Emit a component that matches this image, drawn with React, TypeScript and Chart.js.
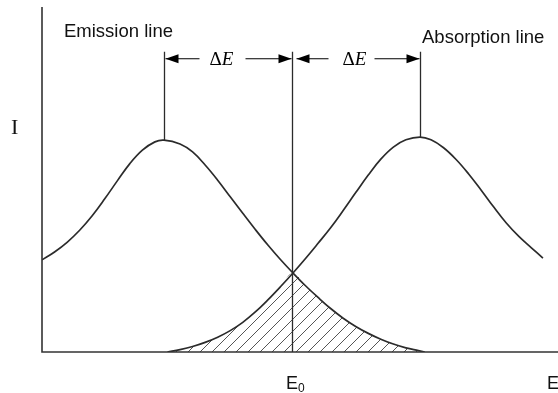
import React, { useEffect, useRef } from "react";
import { Chart, registerables } from "chart.js";

Chart.register(...registerables);

// Energy E (arbitrary units) and intensity I (arbitrary units)
const E_MIN = 0;
const E_MAX = 20.56;
const I_MAX = 100;
const E0 = 10;

const emissionE = [0, 0.5, 1, 1.5, 2, 2.5, 3, 3.5, 4, 4.5, 4.86, 5.5, 6, 6.5, 7, 7.5, 8, 8.5, 9, 9.5, 10, 10.5, 11, 11.5, 12, 12.5, 13, 13.5, 14, 14.5, 15, 15.25];
const emissionI = [26.7, 29.0, 31.8, 35.3, 39.5, 44.4, 49.6, 54.6, 58.5, 60.9, 61.4, 60.3, 58.0, 54.2, 49.8, 45.0, 40.2, 35.5, 31.0, 26.8, 22.9, 19.2, 15.8, 12.6, 9.8, 7.4, 5.4, 3.7, 2.3, 1.2, 0.4, 0];

const absorptionE = [5.0, 5.5, 6, 6.5, 7, 7.5, 8, 8.5, 9, 9.5, 10, 10.5, 11, 11.5, 12, 12.5, 13, 13.5, 14, 14.5, 15.06, 15.5, 16, 16.5, 17, 17.5, 18, 18.5, 19, 19.5, 19.96];
const absorptionI = [0, 0.7, 1.6, 2.8, 4.3, 6.2, 8.6, 11.6, 15.1, 18.9, 22.9, 27.1, 31.5, 36.0, 41.0, 46.2, 51.3, 55.9, 59.4, 61.5, 62.3, 61.5, 59.2, 55.8, 51.6, 46.9, 42.0, 37.4, 33.5, 30.2, 27.2];

const xLabels = ["E", "E"];
const textEmission = "Emission line";
const textAbsorption = "Absorption line";
const textI = "I";

const toPoints = (xs: number[], ys: number[]) => xs.map((x, i) => ({ x, y: ys[i] }));

function peakOf(xs: number[], ys: number[]) {
  let k = 0;
  ys.forEach((v, i) => {
    if (v > ys[k]) k = i;
  });
  return { x: xs[k], y: ys[k] };
}

function makeHatch(): CanvasPattern | string {
  const s = 12;
  const c = document.createElement("canvas");
  c.width = s;
  c.height = s;
  const g = c.getContext("2d");
  if (!g) return "rgba(0,0,0,0.2)";
  g.strokeStyle = "#555";
  g.lineWidth = 1;
  g.beginPath();
  g.moveTo(0, s);
  g.lineTo(s, 0);
  g.moveTo(-s / 2, s / 2);
  g.lineTo(s / 2, -s / 2);
  g.moveTo(s / 2, s * 1.5);
  g.lineTo(s * 1.5, s / 2);
  g.stroke();
  const p = g.createPattern(c, "repeat");
  return p || "rgba(0,0,0,0.2)";
}

export default function App() {
  const ref = useRef<HTMLCanvasElement | null>(null);

  useEffect(() => {
    const canvas = ref.current;
    if (!canvas) return;

    const emission = toPoints(emissionE, emissionI);
    const absorption = toPoints(absorptionE, absorptionI);
    const overlap = [
      ...absorption.filter((p) => p.x <= E0),
      ...emission.filter((p) => p.x > E0),
    ];
    const emPeak = peakOf(emissionE, emissionI);
    const abPeak = peakOf(absorptionE, absorptionI);

    const ink = "#2b2b2b";

    const annot = {
      id: "annot",
      afterDatasetsDraw(chart: any) {
        const ctx: CanvasRenderingContext2D = chart.ctx;
        const { left, right, top, bottom } = chart.chartArea;
        const xs = chart.scales.x;
        const ys = chart.scales.y;
        const px = (v: number) => xs.getPixelForValue(v);
        const py = (v: number) => ys.getPixelForValue(v);

        ctx.save();
        // axes
        ctx.strokeStyle = "#333";
        ctx.lineWidth = 1.6;
        ctx.beginPath();
        ctx.moveTo(left, top);
        ctx.lineTo(left, bottom);
        ctx.lineTo(right, bottom);
        ctx.stroke();

        // vertical markers
        const xEm = Math.round(px(emPeak.x)) + 0.5;
        const xAb = Math.round(px(abPeak.x)) + 0.5;
        const x0 = Math.round(px(E0)) - 0.5;
        const yTop = py(87);
        ctx.strokeStyle = ink;
        ctx.lineWidth = 1.3;
        ctx.beginPath();
        ctx.moveTo(xEm, yTop);
        ctx.lineTo(xEm, py(emPeak.y));
        ctx.moveTo(xAb, yTop);
        ctx.lineTo(xAb, py(abPeak.y));
        ctx.moveTo(x0, yTop);
        ctx.lineTo(x0, bottom);
        ctx.stroke();

        // arrows
        const ya = py(85);
        const head = (tip: number, dir: number) => {
          ctx.beginPath();
          ctx.moveTo(tip, ya);
          ctx.lineTo(tip + dir * 13, ya - 4.5);
          ctx.lineTo(tip + dir * 13, ya + 4.5);
          ctx.closePath();
          ctx.fill();
        };
        ctx.fillStyle = "#000";
        ctx.strokeStyle = "#000";
        ctx.lineWidth = 1.2;
        const seg = (a: number, b: number, gapL: number, gapR: number) => {
          ctx.beginPath();
          ctx.moveTo(a + 1, ya);
          ctx.lineTo(gapL, ya);
          ctx.moveTo(gapR, ya);
          ctx.lineTo(b - 1, ya);
          ctx.stroke();
          head(a + 1, 1);
          head(b - 1, -1);
        };
        seg(xEm, x0, xEm + 35, xEm + 81);
        seg(x0 + 3, xAb, x0 + 36, x0 + 82);

        // ΔE labels
        const dE = (cx: number) => {
          ctx.textBaseline = "alphabetic";
          ctx.font = "19px 'Liberation Serif'";
          const wd = ctx.measureText("Δ").width;
          ctx.font = "italic 19px 'Liberation Serif'";
          const we = ctx.measureText("E").width;
          const x = cx - (wd + we) / 2;
          ctx.font = "19px 'Liberation Serif'";
          ctx.fillText("Δ", x, ya + 6);
          ctx.font = "italic 19px 'Liberation Serif'";
          ctx.fillText("E", x + wd, ya + 6);
        };
        dE(xEm + 57);
        dE(x0 + 62);

        // texts
        ctx.fillStyle = "#111";
        ctx.textAlign = "left";
        ctx.textBaseline = "alphabetic";
        ctx.font = "18.5px 'Liberation Sans'";
        ctx.fillText(textEmission, 64, 36.5);
        ctx.fillText(textAbsorption, 422, 42.5);

        ctx.font = "22px 'Liberation Serif'";
        ctx.fillText(textI, 11, 133.5);

        ctx.font = "18px 'Liberation Sans'";
        const e0x = px(E0) - 7;
        ctx.fillText(xLabels[0], e0x, 389);
        const we = ctx.measureText(xLabels[0]).width;
        ctx.font = "12px 'Liberation Sans'";
        ctx.fillText("0", e0x + we, 392);
        ctx.font = "18px 'Liberation Sans'";
        ctx.fillText(xLabels[1], 547, 389);
        ctx.restore();
      },
    };

    const chart = new Chart(canvas, {
      type: "line",
      data: {
        datasets: [
          {
            label: "Emission",
            data: emission,
            borderColor: ink,
            borderWidth: 1.7,
            pointRadius: 0,
            fill: false,
            tension: 0.4,
          },
          {
            label: "Absorption",
            data: absorption,
            borderColor: ink,
            borderWidth: 1.7,
            pointRadius: 0,
            fill: false,
            tension: 0.4,
          },
          {
            label: "Overlap",
            data: overlap,
            borderColor: "rgba(0,0,0,0)",
            borderWidth: 0,
            backgroundColor: makeHatch() as any,
            pointRadius: 0,
            fill: "origin",
            tension: 0.4,
          },
        ],
      },
      options: {
        responsive: false,
        animation: false,
        devicePixelRatio: 1,
        layout: { padding: { left: 42, right: 0, top: 7, bottom: 41 } },
        plugins: { legend: { display: false }, tooltip: { enabled: false } },
        scales: {
          x: { type: "linear", min: E_MIN, max: E_MAX, display: false },
          y: { type: "linear", min: 0, max: I_MAX, display: false },
        },
      },
      plugins: [annot],
    });

    return () => chart.destroy();
  }, []);

  return (
    <div style={{ position: "fixed", left: 0, top: 0, width: 558, height: 393, background: "#fff" }}>
      <canvas ref={ref} width={558} height={393} style={{ display: "block" }} />
    </div>
  );
}
